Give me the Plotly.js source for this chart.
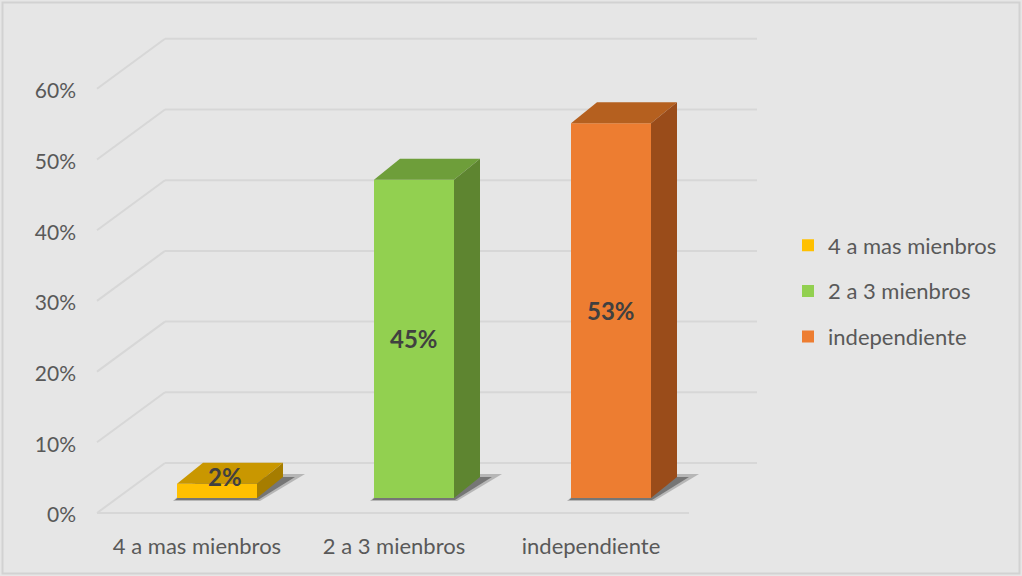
<!DOCTYPE html>
<html>
<head>
<meta charset="utf-8">
<script src="https://cdn.plot.ly/plotly-3.0.1.min.js"></script>
<style>html,body{margin:0;padding:0;background:#e6e6e6;}#chart{width:1022px;height:576px;}</style>
</head>
<body>
<div id="chart"></div>
<script>
// ---- data ----
const categories = ['4 a mas mienbros', '2 a 3 mienbros', 'independiente'];
const values = [0.02, 0.45, 0.53];
const valueLabels = ['2%', '45%', '53%'];
const tickVals = [0, 0.1, 0.2, 0.3, 0.4, 0.5, 0.6];
const tickText = ['0%', '10%', '20%', '30%', '40%', '50%', '60%'];

// ---- styles ----
const frontColors = ['#FFC000', '#92D050', '#ED7D31'];
const topColors = ['#C99700', '#6E9E3A', '#B5601F'];
const sideColors = ['#A67D00', '#5E8530', '#9A4C1A'];

// ---- geometry (pixels) ----
const W = 1022, H = 576;
const PPU = 707;           // pixels per value unit
const BASE = 498;          // pixel row of bar baseline
const FRONT0 = 515;        // pixel row of front axis zero (labels)
const BACK0 = 463;         // pixel row of back wall zero
const xPx0 = 118.5, xPx1 = 709.5;   // main x domain
const xu = 3 / (xPx1 - xPx0);       // x units per px
const yu = 1 / PPU;                 // y units per px
const barW = 80 * xu;
const ddx = 26 * xu, ddy = 21 * yu;

const traces = categories.map((c, i) => ({
  type: 'bar', name: c, x: [i], y: [values[i]], width: barW,
  marker: {color: frontColors[i], line: {width: 0}},
  legendgroup: 'g' + i, hoverinfo: 'skip', xaxis: 'x', yaxis: 'y'
}));
traces.push({type: 'scatter', mode: 'markers', x: [0, 1, 2], y: [null, null, null],
  xaxis: 'x3', yaxis: 'y2', showlegend: false, hoverinfo: 'skip'});

const shapes = [];
const gridColor = '#D7D7D7';
// wall and floor lines
tickVals.forEach(v => {
  const yBack = v + (BASE - BACK0) * yu;
  const yFront = v + (BASE - 513) * yu;
  shapes.push({type: 'line', layer: 'below', xref: 'paper', yref: 'y',
    x0: 165 / W, x1: 757 / W, y0: yBack, y1: yBack, line: {color: gridColor, width: 2}});
  shapes.push({type: 'line', layer: 'below', xref: 'paper', yref: 'y',
    x0: 97 / W, x1: 165 / W, y0: yFront, y1: yBack, line: {color: gridColor, width: 2}});
});
const yFloorFront = (BASE - 513) * yu;
shapes.push({type: 'line', layer: 'below', xref: 'paper', yref: 'y',
  x0: 97 / W, x1: 689 / W, y0: yFloorFront, y1: yFloorFront, line: {color: gridColor, width: 2}});

// bar 3D faces and shadows
values.forEach((v, i) => {
  const xl = i - barW / 2, xr = i + barW / 2;
  const p = pts => 'M' + pts.map(q => q[0] + ',' + q[1]).join(' L') + ' Z';
  shapes.push({type: 'path', layer: 'below', xref: 'x', yref: 'y', line: {width: 0},
    fillcolor: 'rgba(40,40,40,0.25)',
    path: p([[xl - 4 * xu, -3 * yu], [xr + 3 * xu, -3 * yu], [xr + ddx + 22 * xu, ddy + 3 * yu], [xl + ddx, ddy + 3 * yu]])});
  shapes.push({type: 'path', layer: 'below', xref: 'x', yref: 'y', line: {width: 0},
    fillcolor: 'rgba(40,40,40,0.45)',
    path: p([[xl - 2 * xu, -2 * yu], [xr + 1 * xu, -2 * yu], [xr + ddx + 12 * xu, ddy], [xl + ddx, ddy]])});
  shapes.push({type: 'path', layer: 'above', xref: 'x', yref: 'y', line: {width: 0},
    fillcolor: topColors[i],
    path: p([[xl, v], [xr, v], [xr + ddx, v + ddy], [xl + ddx, v + ddy]])});
  shapes.push({type: 'path', layer: 'above', xref: 'x', yref: 'y', line: {width: 0},
    fillcolor: sideColors[i],
    path: p([[xr, 0], [xr, v], [xr + ddx, v + ddy], [xr + ddx, ddy]])});
});
// outer border
shapes.push({type: 'rect', xref: 'paper', yref: 'paper', x0: 2.5 / W, x1: 1 - 2.5 / W,
  y0: 2.5 / H, y1: 1 - 2.5 / H, line: {color: '#D2D2D2', width: 2}, layer: 'below'});

const annotations = values.map((v, i) => {
  const small = v < 0.05;
  return {xref: 'x', yref: 'y', x: i, y: small ? v + 7 * yu : v / 2,
    xshift: small ? 8 : 0, text: '<b>' + valueLabels[i] + '</b>', showarrow: false,
    font: {family: 'Lato, sans-serif', size: 24, color: '#404040'}};
});

const fontAxis = {family: 'Lato, sans-serif', size: 22, color: '#595959'};
const fontY = {family: 'Lato, sans-serif', size: 21, color: '#595959'};
const layout = {
  width: W, height: H, margin: {l: 0, r: 0, t: 0, b: 0},
  paper_bgcolor: '#E6E6E6', plot_bgcolor: 'rgba(0,0,0,0)',
  barmode: 'overlay', showlegend: true,
  xaxis: {domain: [xPx0 / W, xPx1 / W], range: [-0.5, 2.5], visible: false, fixedrange: true},
  yaxis: {domain: [0, 1], range: [(BASE - H) / PPU, BASE / PPU], visible: false, fixedrange: true},
  xaxis3: {domain: [(xPx0 - 20) / W, (xPx1 - 20) / W], range: [-0.5, 2.5], anchor: 'free',
    position: (H - 531) / H, tickvals: [0, 1, 2], ticktext: categories, showgrid: false,
    zeroline: false, showline: false, ticks: '', tickfont: fontAxis},
  yaxis2: {domain: [0, 1], range: [(FRONT0 - H) / PPU, FRONT0 / PPU], anchor: 'free',
    position: 76 / W, tickvals: tickVals, ticktext: tickText, showgrid: false,
    zeroline: false, showline: false, ticks: '', tickfont: fontY},
  legend: {x: 788 / W, xanchor: 'left', y: 1 - 291 / H, yanchor: 'middle',
    traceorder: 'grouped', tracegroupgap: 14, bgcolor: 'rgba(0,0,0,0)',
    font: fontAxis},
  shapes: shapes,
  annotations: annotations
};

Plotly.newPlot('chart', traces, layout, {displayModeBar: false, staticPlot: true});
</script>
</body>
</html>
